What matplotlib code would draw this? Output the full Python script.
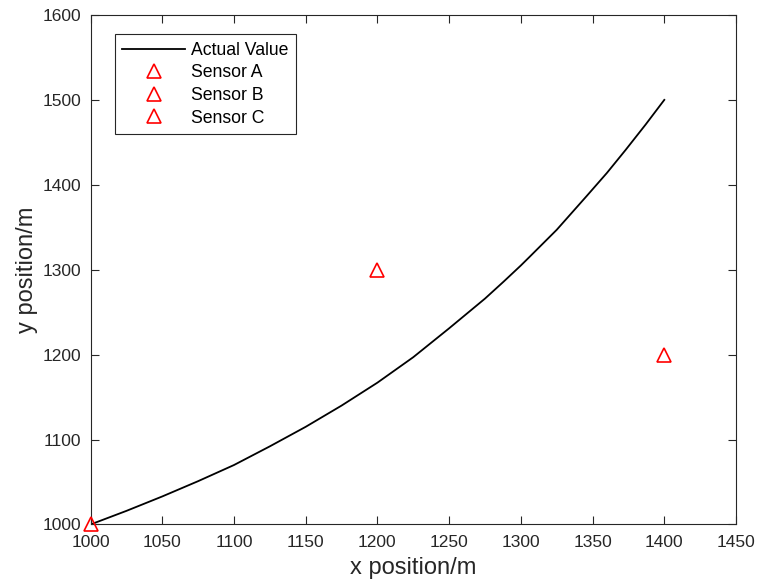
import matplotlib.pyplot as plt

plt.rcParams['font.family'] = ['Liberation Sans', 'DejaVu Sans']

# --- data ---
track_x = [1000, 1025, 1050, 1075, 1100, 1125, 1150, 1175, 1200, 1225,
           1250, 1275, 1288, 1300, 1306, 1325, 1346, 1360, 1373, 1387, 1400]
track_y = [1000, 1016, 1033, 1051, 1070, 1092, 1115, 1140, 1167, 1197,
           1231, 1266, 1286, 1305, 1315, 1347, 1387, 1414, 1441, 1471, 1500]

sensor_names = ["Sensor A", "Sensor B", "Sensor C"]
sensor_x = [1000, 1200, 1400]
sensor_y = [1000, 1300, 1200]

grey = "#262626"

fig = plt.figure(figsize=(7.58, 5.87), dpi=100)
ax = fig.add_axes([0.1194, 0.1065, 0.8516, 0.868])

ax.plot(track_x, track_y, color="black", linewidth=1.3, label="Actual Value")
for name, sx, sy in zip(sensor_names, sensor_x, sensor_y):
    ax.plot(sx, sy, linestyle="none", marker="^", markersize=10,
            markerfacecolor="none", markeredgecolor="red", markeredgewidth=1.2,
            label=name, clip_on=False, zorder=5)

ax.set_xlim(1000, 1450)
ax.set_ylim(1000, 1600)
ax.set_xticks(range(1000, 1451, 50))
ax.set_yticks(range(1000, 1601, 100))
ax.tick_params(direction="in", top=True, right=True, labelsize=12.5,
               length=6, width=0.8, colors=grey)
ax.tick_params(axis="x", pad=7.3)
ax.tick_params(axis="y", pad=6.5)
for sp in ax.spines.values():
    sp.set_linewidth(0.8)
    sp.set_color(grey)
ax.set_xlabel("x position/m", fontsize=17, labelpad=5, color=grey)
ax.set_ylabel("y position/m", fontsize=17, labelpad=3.5, color=grey)

leg = ax.legend(loc="upper left", bbox_to_anchor=(0.0372, 0.962), borderaxespad=0,
                fontsize=12.7, handlelength=3.6, handletextpad=0.3, borderpad=0.42,
                labelspacing=0.32, fancybox=False, edgecolor=grey,
                framealpha=1)
leg.get_frame().set_linewidth(0.8)

fig.savefig("out.png", dpi=100)
